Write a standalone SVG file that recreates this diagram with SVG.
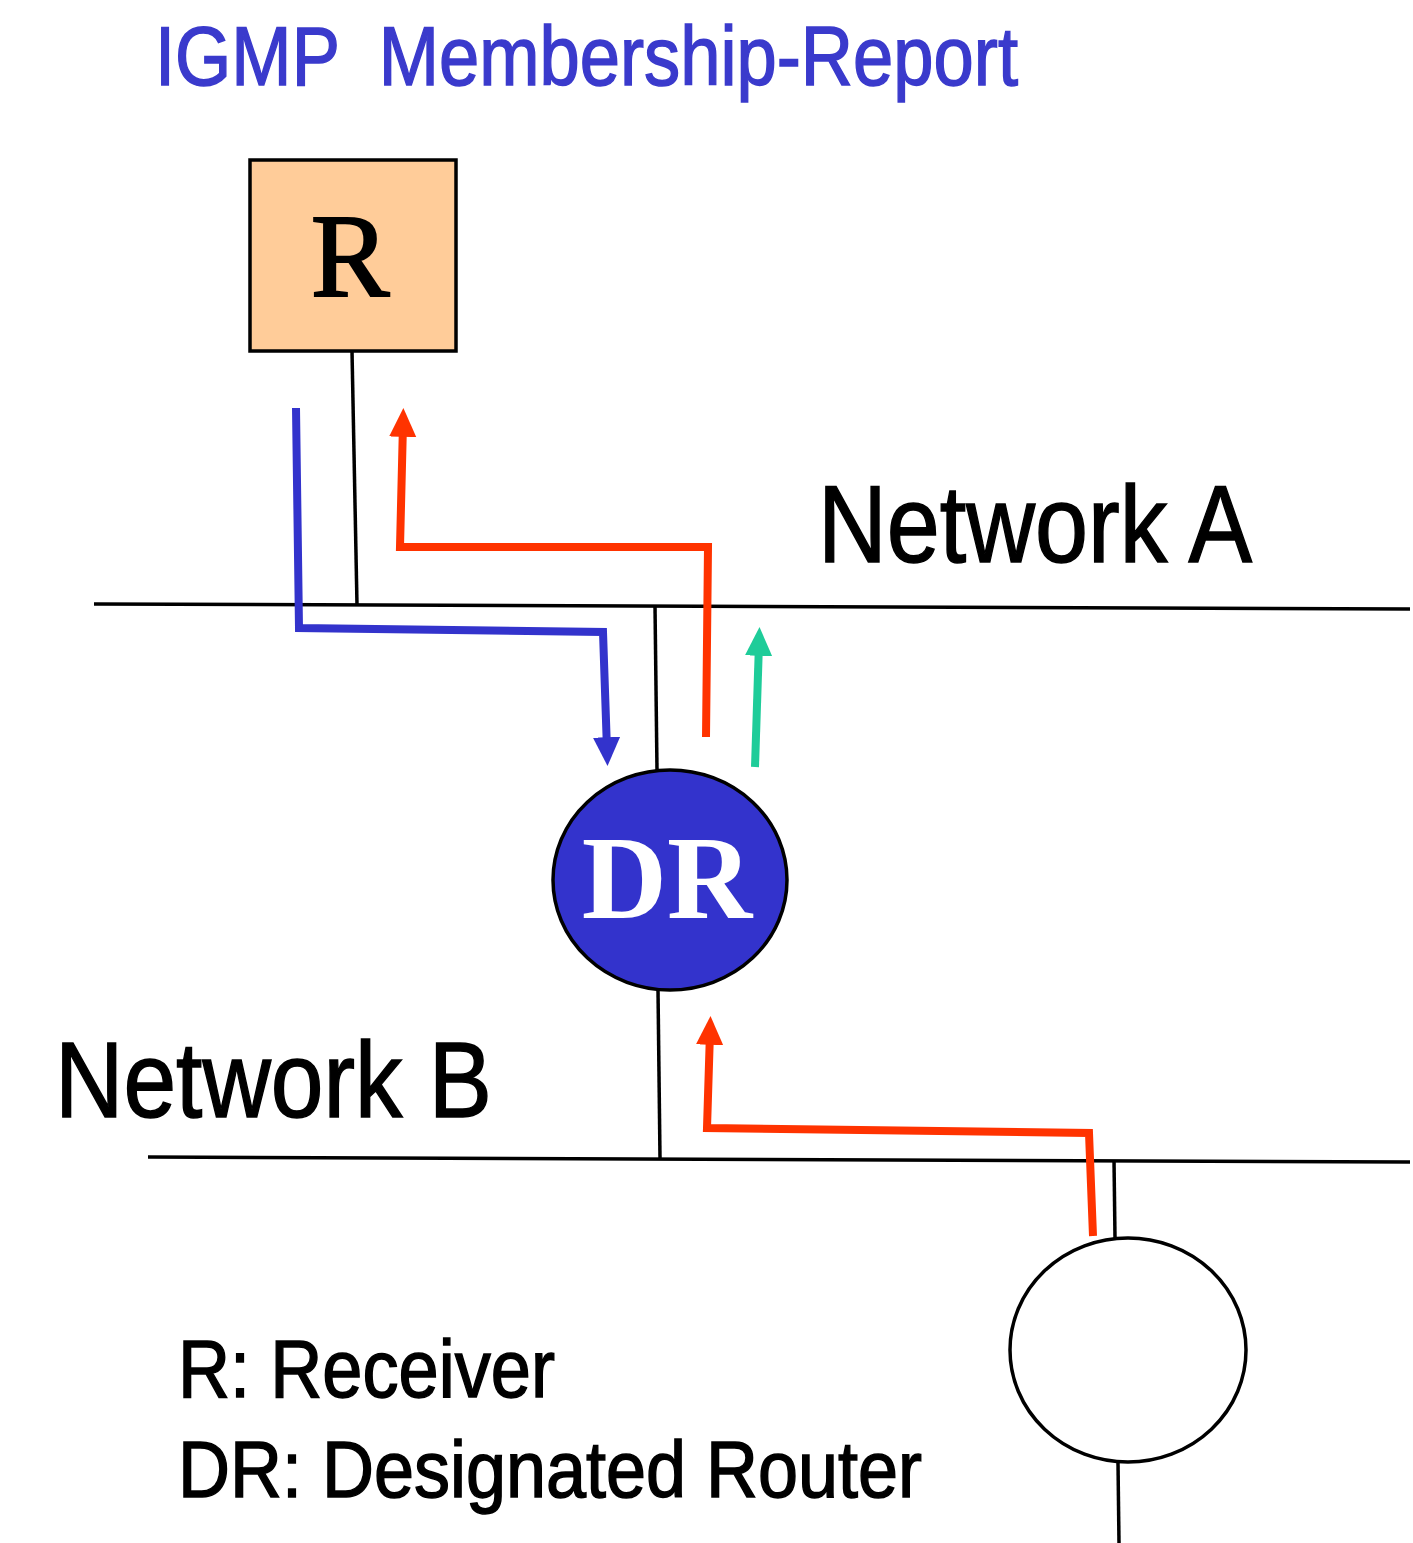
<svg xmlns="http://www.w3.org/2000/svg" width="1413" height="1543" viewBox="0 0 1413 1543">
<style>
.sans{font-family:"Liberation Sans",Arial,sans-serif;}
.serif{font-family:"Liberation Serif","Times New Roman",serif;}
.wire{stroke:#000;stroke-width:3.5;fill:none;}
.flow{fill:none;stroke-width:8;stroke-linejoin:miter;}
.heavy{stroke-width:1.5;}
</style>
<defs>
<marker id="ahRed" markerWidth="3.6" markerHeight="3.6" refX="1.6" refY="1.8" orient="auto" markerUnits="strokeWidth" viewBox="0 0 3.6 3.6"><path d="M0,0.1 L3.6,1.8 L0,3.5 z" fill="#FF3300"/></marker>
<marker id="ahBlue" markerWidth="3.6" markerHeight="3.6" refX="1.6" refY="1.8" orient="auto" markerUnits="strokeWidth" viewBox="0 0 3.6 3.6"><path d="M0,0.1 L3.6,1.8 L0,3.5 z" fill="#3333CC"/></marker>
<marker id="ahGreen" markerWidth="3.6" markerHeight="3.6" refX="1.6" refY="1.8" orient="auto" markerUnits="strokeWidth" viewBox="0 0 3.6 3.6"><path d="M0,0.1 L3.6,1.8 L0,3.5 z" fill="#1ECC99"/></marker>
</defs>
<rect width="1413" height="1543" fill="#fff"/>

<text class="sans heavy" x="155" y="85" font-size="84" fill="#3A3ACC" stroke="#3A3ACC" textLength="863" lengthAdjust="spacingAndGlyphs" xml:space="preserve">IGMP  Membership-Report</text>

<g id="networkA">
<line class="wire" x1="94" y1="604" x2="1410" y2="609"/>
<text class="sans heavy" x="818" y="562" font-size="110" fill="#000" stroke="#000" textLength="434" lengthAdjust="spacingAndGlyphs">Network A</text>
</g>
<g id="networkB">
<line class="wire" x1="148" y1="1157" x2="1410" y2="1162"/>
<text class="sans heavy" x="55" y="1117" font-size="108" fill="#000" stroke="#000" textLength="437" lengthAdjust="spacingAndGlyphs">Network B</text>
</g>

<g id="connectors">
<line class="wire" x1="352" y1="351" x2="357" y2="605"/>
<line class="wire" x1="655" y1="606" x2="657" y2="770"/>
<line class="wire" x1="658" y1="990" x2="660" y2="1158"/>
<line class="wire" x1="1114" y1="1160" x2="1115" y2="1238"/>
<line class="wire" x1="1118" y1="1463" x2="1119" y2="1543"/>
<path class="flow" stroke="#3333CC" d="M296,408 L299,628 L603,632 L607,750" marker-end="url(#ahBlue)"/>
<path class="flow" stroke="#FF3300" d="M706,737 L708,547 L400,547 L403,424" marker-end="url(#ahRed)"/>
<path class="flow" stroke="#1ECC99" d="M755,767 L759,643" marker-end="url(#ahGreen)"/>
<path class="flow" stroke="#FF3300" d="M1093,1236 L1089,1133 L707,1128 L710,1032" marker-end="url(#ahRed)"/>
</g>

<g id="receiver">
<rect x="250" y="160" width="206" height="191" fill="#FFCC99" stroke="#000" stroke-width="3.5"/>
<text class="serif" x="350" y="296" font-size="118" text-anchor="middle" fill="#000" stroke="#000" stroke-width="2">R</text>
</g>

<g id="dr">
<ellipse cx="670" cy="880" rx="117" ry="110" fill="#3333CC" stroke="#000" stroke-width="3.5"/>
<text class="serif" x="667" y="918" font-size="118" font-weight="bold" text-anchor="middle" fill="#fff">DR</text>
</g>

<g id="router">
<ellipse cx="1128" cy="1350" rx="118" ry="112" fill="#fff" stroke="#000" stroke-width="3.5"/>
</g>

<g id="legend">
<text class="sans heavy" x="178" y="1397" font-size="82" fill="#000" stroke="#000" textLength="377" lengthAdjust="spacingAndGlyphs">R: Receiver</text>
<text class="sans heavy" x="178" y="1497" font-size="80" fill="#000" stroke="#000" textLength="744" lengthAdjust="spacingAndGlyphs">DR: Designated Router</text>
</g>
</svg>
